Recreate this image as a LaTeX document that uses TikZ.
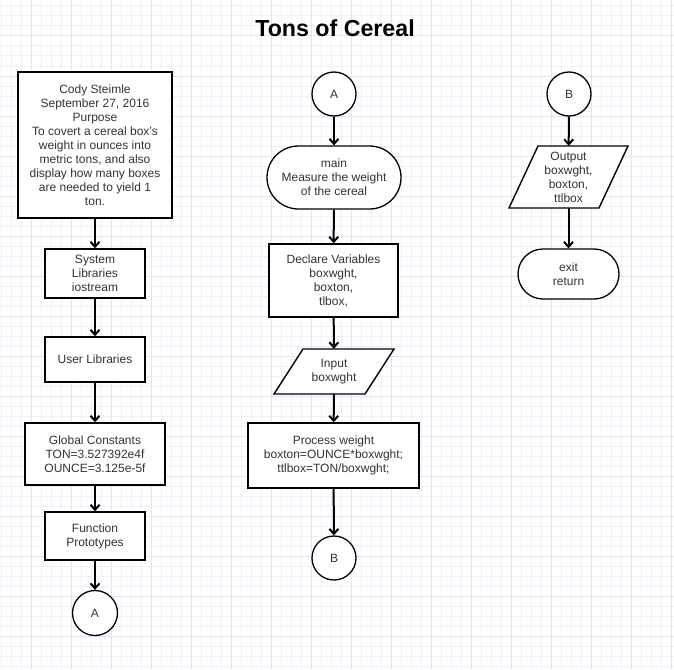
\documentclass[tikz,border=0pt]{standalone}
\usepackage{fontspec}
\setmainfont{Liberation Sans}
\usetikzlibrary{arrows.meta}
\definecolor{gridminor}{RGB}{240,240,252}
\definecolor{gridmajor}{RGB}{226,226,248}
\definecolor{txt}{RGB}{51,51,51}
\begin{document}
\begin{tikzpicture}[x=1pt,y=-1pt,
  base/.style={inner sep=0pt, text=txt, align=center, font=\fontsize{12}{14}\selectfont},
  box/.style={base, draw=black, fill=white, rectangle, line width=1.5pt},
  bigbox/.style={box, line width=2.2pt},
  term/.style={base, draw=black, fill=white, rectangle, line width=1.3pt},
  conn/.style={base, draw=black, fill=white, circle, line width=1.3pt, minimum size=44pt},
  para/.style={draw=black, fill=white, line width=1.4pt, line join=miter},
  plain/.style={base, rectangle},
  flow/.style={draw=black, line width=2pt, -{Straight Barb[length=5pt,width=9pt]}}
]
\useasboundingbox (0,0) rectangle (674,669);
\fill[white] (0,0) rectangle (674,669);
% grid
\foreach \gx in {1,11,...,671} \draw[gridminor, line width=1pt] (\gx,0) -- (\gx,669);
\foreach \gy in {6,16,...,666} \draw[gridminor, line width=1pt] (0,\gy) -- (674,\gy);
\foreach \gx in {31,71,...,671} \draw[gridmajor, line width=1pt] (\gx,0) -- (\gx,669);
\foreach \gy in {36,76,...,666} \draw[gridmajor, line width=1pt] (0,\gy) -- (674,\gy);

% title
\node[anchor=base, inner sep=0pt, font=\fontsize{23.2}{27}\selectfont\bfseries] (title) at (335,36.7) {Tons of Cereal};

% left column
\node[bigbox, minimum width=154pt, minimum height=146pt] (hdr) at (95,145) {Cody Steimle\\September 27, 2016\\Purpose\\To covert a cereal box's\\weight in ounces into\\metric tons, and also\\display how many boxes\\are needed to yield 1\\ton.};
\node[box, minimum width=100pt, minimum height=49pt] (sys) at (95,273.5) {System\\Libraries\\iostream};
\node[box, minimum width=100pt, minimum height=45pt] (usr) at (95,359.5) {User Libraries};
\node[box, minimum width=140pt, minimum height=62pt] (glob) at (95,454) {Global Constants\\TON=3.527392e4f\\OUNCE=3.125e-5f};
\node[box, minimum width=100pt, minimum height=48pt] (func) at (95,536) {Function\\Prototypes};
\node[conn, minimum size=45pt] (ca1) at (95,613) {A};

% middle column
\node[conn] (ca2) at (334,94) {A};
\node[term, minimum width=134pt, minimum height=63pt, rounded corners=31.5pt] (main) at (334,177.5) {main\\Measure the weight\\of the cereal};
\node[box, minimum width=129pt, minimum height=73pt] (decl) at (333.5,280.5) {Declare Variables\\boxwght,\\boxton,\\tlbox,};
\draw[para] (303,349) -- (394,349) -- (365,394) -- (274,394) -- cycle;
\node[plain, minimum width=120pt, minimum height=45pt] (inp) at (334,371.5) {Input\\boxwght};
\node[box, minimum width=171pt, minimum height=65pt] (proc) at (333.5,455.5) {Process weight\\boxton=OUNCE*boxwght;\\ttlbox=TON/boxwght;};
\node[conn] (cb1) at (334,558) {B};

% right column
\node[conn] (cb2) at (569,94) {B};
\draw[para] (538,146) -- (628,146) -- (599,208) -- (509,208) -- cycle;
\node[plain, minimum width=119pt, minimum height=62pt] (out) at (568.5,177) {Output\\boxwght,\\boxton,\\ttlbox};
\node[term, minimum width=101pt, minimum height=50pt, rounded corners=25pt] (exit) at (568.5,274) {exit\\return};

% connectors
\draw[flow] (hdr) -- (sys);
\draw[flow] (sys) -- (usr);
\draw[flow] (usr) -- (glob);
\draw[flow] (glob) -- (func);
\draw[flow] (func) -- (ca1);
\draw[flow] (ca2) -- (main);
\draw[flow] (main) -- (decl);
\draw[flow] (decl) -- (inp);
\draw[flow] (inp) -- (proc);
\draw[flow] (proc) -- (cb1);
\draw[flow] (cb2) -- (out);
\draw[flow] (out) -- (exit);
\end{tikzpicture}
\end{document}
